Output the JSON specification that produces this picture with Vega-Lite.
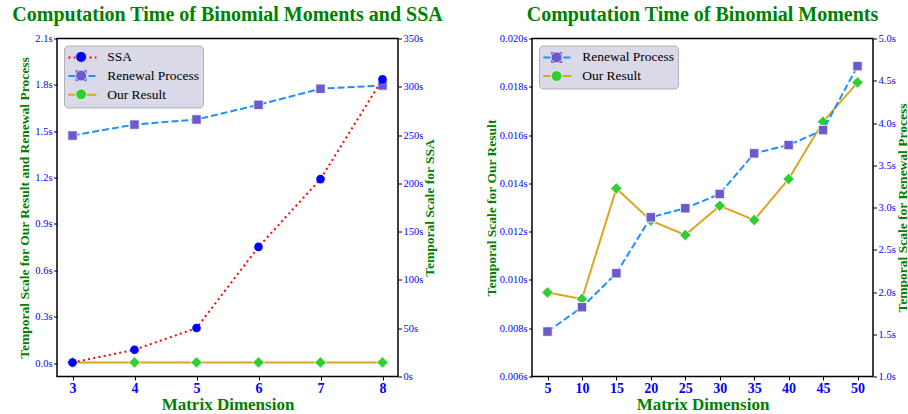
{
  "$schema": "https://vega.github.io/schema/vega-lite/v6.json",
  "background": "white",
  "padding": {"left": 11, "top": 3.5, "right": 0, "bottom": 0},
  "config": {
    "font": "Liberation Serif",
    "style": {"guide-label": {"font": "Liberation Serif"}, "guide-title": {"font": "Liberation Serif"}, "group-title": {"font": "Liberation Serif"}},
    "view": {"stroke": "black", "strokeWidth": 1.5},
    "axis": {"grid": false, "domain": false, "tickColor": "black", "tickSize": 3.5, "tickWidth": 1, "labelOverlap": false,
      "labelFont": "Liberation Serif", "labelColor": "blue", "labelFontSize": 10.5, "labelPadding": 1.5,
      "titleFont": "Liberation Serif", "titleColor": "green", "titleFontWeight": "bold", "titleFontSize": 13.5},
    "axisX": {"labelFont": "Liberation Serif", "titleFont": "Liberation Serif", "labelFontSize": 14, "labelFontWeight": "bold", "titleFontSize": 17, "titlePadding": 1},
    "axisY": {"labelFont": "Liberation Serif", "titleFont": "Liberation Serif"},
    "title": {"font": "Liberation Serif", "fontSize": 20, "fontWeight": "bold", "color": "green", "anchor": "middle", "frame": "group", "offset": 9},
    "legend": {"labelFont": "Liberation Serif", "labelColor": "black"}
  },
  "datasets": {
    "left": [
      {"dim": 3, "series": "SSA", "value": 14.5},
      {"dim": 4, "series": "SSA", "value": 27.7},
      {"dim": 5, "series": "SSA", "value": 50.2},
      {"dim": 6, "series": "SSA", "value": 134.2},
      {"dim": 7, "series": "SSA", "value": 204.4},
      {"dim": 8, "series": "SSA", "value": 307.8},
      {"dim": 3, "series": "Renewal Process", "value": 1.472},
      {"dim": 4, "series": "Renewal Process", "value": 1.543},
      {"dim": 5, "series": "Renewal Process", "value": 1.576},
      {"dim": 6, "series": "Renewal Process", "value": 1.671},
      {"dim": 7, "series": "Renewal Process", "value": 1.775},
      {"dim": 8, "series": "Renewal Process", "value": 1.796},
      {"dim": 3, "series": "Our Result", "value": 0.004},
      {"dim": 4, "series": "Our Result", "value": 0.004},
      {"dim": 5, "series": "Our Result", "value": 0.004},
      {"dim": 6, "series": "Our Result", "value": 0.004},
      {"dim": 7, "series": "Our Result", "value": 0.004},
      {"dim": 8, "series": "Our Result", "value": 0.004}
    ],
    "right": [
      {"dim": 5, "series": "Our Result", "value": 0.00948},
      {"dim": 10, "series": "Our Result", "value": 0.00921},
      {"dim": 15, "series": "Our Result", "value": 0.01379},
      {"dim": 20, "series": "Our Result", "value": 0.01246},
      {"dim": 25, "series": "Our Result", "value": 0.01186},
      {"dim": 30, "series": "Our Result", "value": 0.01307},
      {"dim": 35, "series": "Our Result", "value": 0.01248},
      {"dim": 40, "series": "Our Result", "value": 0.01418},
      {"dim": 45, "series": "Our Result", "value": 0.01655},
      {"dim": 50, "series": "Our Result", "value": 0.01818},
      {"dim": 5, "series": "Renewal Process", "value": 1.532},
      {"dim": 10, "series": "Renewal Process", "value": 1.82},
      {"dim": 15, "series": "Renewal Process", "value": 2.222},
      {"dim": 20, "series": "Renewal Process", "value": 2.884},
      {"dim": 25, "series": "Renewal Process", "value": 2.991},
      {"dim": 30, "series": "Renewal Process", "value": 3.16},
      {"dim": 35, "series": "Renewal Process", "value": 3.641},
      {"dim": 40, "series": "Renewal Process", "value": 3.739},
      {"dim": 45, "series": "Renewal Process", "value": 3.916},
      {"dim": 50, "series": "Renewal Process", "value": 4.673}
    ]
  },
  "bounds": "flush",
  "spacing": 134,
  "resolve": {"scale": {"stroke": "independent", "strokeDash": "independent", "fill": "independent", "shape": "independent"}},
  "hconcat": [
    {
      "title": "Computation Time of Binomial Moments and SSA",
      "width": 341,
      "height": 338,
      "data": {"name": "left"},
      "resolve": {"scale": {"y": "independent"}},
      "layer": [
        {
          "transform": [{"filter": "datum.series !== 'SSA'"}],
          "encoding": {
            "x": {"field": "dim", "type": "quantitative", "scale": {"domain": [2.75, 8.25], "nice": false, "zero": false},
              "axis": {"values": [3, 4, 5, 6, 7, 8], "format": "d", "title": "Matrix Dimension", "labelOverlap": false, "labelFont": "Liberation Serif", "titleFont": "Liberation Serif"}},
            "y": {"field": "value", "type": "quantitative", "scale": {"domain": [-0.087, 2.1], "nice": false, "zero": false},
              "axis": {"orient": "left", "values": [0, 0.3, 0.6, 0.9, 1.2, 1.5, 1.8, 2.1], "labelExpr": "format(datum.value, '.1f') + 's'", "labelOverlap": false,
                "labelFont": "Liberation Serif", "titleFont": "Liberation Serif",
                "title": "Temporal Scale for Our Result and Renewal Process", "minExtent": 21, "maxExtent": 21, "titlePadding": 4.5}}
          },
          "layer": [
            {
              "mark": {"type": "line", "strokeWidth": 2},
              "encoding": {
                "stroke": {"field": "series", "type": "nominal",
                  "scale": {"domain": ["SSA", "Renewal Process", "Our Result"], "range": ["red", "#1E90FF", "#DAA520"]},
                  "legend": {"title": null, "orient": "top-left", "offset": 6.5, "symbolType": "stroke", "symbolSize": 784, "symbolStrokeWidth": 2,
                    "labelFont": "Liberation Serif", "labelFontSize": 13.5, "labelOffset": 9.8, "padding": 3.4, "fillColor": "#D9D9E8", "strokeColor": "#B0B0B8", "cornerRadius": 4,
                    "clipHeight": 17, "rowPadding": 1.7}},
                "strokeDash": {"field": "series", "type": "nominal",
                  "scale": {"domain": ["SSA", "Renewal Process", "Our Result"], "range": [[2, 3.3], [7, 3], [1, 0]]},
                  "legend": {"title": null, "orient": "top-left", "offset": 6.5, "symbolType": "stroke", "symbolSize": 784, "symbolStrokeWidth": 2,
                    "labelFont": "Liberation Serif", "labelFontSize": 13.5, "labelOffset": 9.8, "padding": 3.4, "fillColor": "#D9D9E8", "strokeColor": "#B0B0B8", "cornerRadius": 4,
                    "clipHeight": 17, "rowPadding": 1.7}}
              }
            },
            {
              "transform": [{"filter": "datum.series === 'Our Result'"}],
              "mark": {"type": "point", "filled": true, "size": 130, "opacity": 1, "stroke": "white", "strokeWidth": 0.8},
              "encoding": {
                "fill": {"field": "series", "type": "nominal",
                  "scale": {"domain": ["SSA", "Renewal Process", "Our Result"], "range": ["blue", "#6A5ACD", "#32CD32"]},
                  "legend": {"title": null, "orient": "none", "legendX": 18.1, "legendY": 9.9, "symbolSize": 120, "labelOpacity": 0, "labelFontSize": 1,
                    "padding": 0, "clipHeight": 17, "rowPadding": 1.7, "symbolStrokeColor": "white", "symbolStrokeWidth": 0.8}},
                "shape": {"field": "series", "type": "nominal",
                  "scale": {"domain": ["SSA", "Renewal Process", "Our Result"], "range": ["circle", "square", "diamond"]},
                  "legend": {"title": null, "orient": "none", "legendX": 18.1, "legendY": 9.9, "symbolSize": 120, "labelOpacity": 0, "labelFontSize": 1,
                    "padding": 0, "clipHeight": 17, "rowPadding": 1.7, "symbolStrokeColor": "white", "symbolStrokeWidth": 0.8}}
              }
            },
            {
              "transform": [{"filter": "datum.series === 'Renewal Process'"}],
              "mark": {"type": "point", "filled": true, "size": 88, "opacity": 1, "stroke": "white", "strokeWidth": 0.8},
              "encoding": {
                "fill": {"field": "series", "type": "nominal"},
                "shape": {"field": "series", "type": "nominal"}
              }
            }
          ]
        },
        {
          "transform": [{"filter": "datum.series === 'SSA'"}],
          "encoding": {
            "x": {"field": "dim", "type": "quantitative", "scale": {"domain": [2.75, 8.25], "nice": false, "zero": false},
              "axis": {"values": [3, 4, 5, 6, 7, 8], "format": "d", "title": "Matrix Dimension", "labelOverlap": false, "labelFont": "Liberation Serif", "titleFont": "Liberation Serif"}},
            "y": {"field": "value", "type": "quantitative", "scale": {"domain": [0, 350], "nice": false, "zero": false},
              "axis": {"orient": "right", "values": [0, 50, 100, 150, 200, 250, 300, 350], "labelExpr": "format(datum.value, 'd') + 's'", "labelOverlap": false,
                "labelFont": "Liberation Serif", "titleFont": "Liberation Serif",
                "title": "Temporal Scale for SSA", "titleAngle": 270, "titleBaseline": "top", "minExtent": 23, "maxExtent": 23, "titlePadding": 1.5}}
          },
          "layer": [
            {
              "mark": {"type": "line", "strokeWidth": 2},
              "encoding": {
                "stroke": {"field": "series", "type": "nominal"},
                "strokeDash": {"field": "series", "type": "nominal"}
              }
            },
            {
              "mark": {"type": "point", "filled": true, "size": 75, "opacity": 1, "strokeWidth": 0},
              "encoding": {
                "fill": {"field": "series", "type": "nominal"},
                "shape": {"field": "series", "type": "nominal"}
              }
            }
          ]
        }
      ]
    },
    {
      "title": "Computation Time of Binomial Moments",
      "width": 341,
      "height": 338,
      "data": {"name": "right"},
      "resolve": {"scale": {"y": "independent"}},
      "layer": [
        {
          "transform": [{"filter": "datum.series === 'Our Result'"}],
          "encoding": {
            "x": {"field": "dim", "type": "quantitative", "scale": {"domain": [2.75, 52.25], "nice": false, "zero": false},
              "axis": {"values": [5, 10, 15, 20, 25, 30, 35, 40, 45, 50], "format": "d", "title": "Matrix Dimension", "labelOverlap": false, "labelFont": "Liberation Serif", "titleFont": "Liberation Serif"}},
            "y": {"field": "value", "type": "quantitative", "scale": {"domain": [0.006, 0.02], "nice": false, "zero": false},
              "axis": {"orient": "left", "values": [0.006, 0.008, 0.01, 0.012, 0.014, 0.016, 0.018, 0.02], "labelExpr": "format(datum.value, '.3f') + 's'", "labelOverlap": false,
                "labelFont": "Liberation Serif", "titleFont": "Liberation Serif",
                "title": "Temporal Scale for Our Result", "minExtent": 31, "maxExtent": 31, "titlePadding": 3}}
          },
          "layer": [
            {
              "mark": {"type": "line", "strokeWidth": 2},
              "encoding": {
                "stroke": {"field": "series", "type": "nominal",
                  "scale": {"domain": ["Renewal Process", "Our Result"], "range": ["#1E90FF", "#DAA520"]},
                  "legend": {"title": null, "orient": "top-left", "offset": 7, "symbolType": "stroke", "symbolSize": 784, "symbolStrokeWidth": 2,
                    "labelFont": "Liberation Serif", "labelFontSize": 13.5, "labelOffset": 9.8, "padding": 3.4, "fillColor": "#D9D9E8", "strokeColor": "#B0B0B8", "cornerRadius": 4,
                    "clipHeight": 17, "rowPadding": 1.7}},
                "strokeDash": {"field": "series", "type": "nominal",
                  "scale": {"domain": ["Renewal Process", "Our Result"], "range": [[7, 3], [1, 0]]},
                  "legend": {"title": null, "orient": "top-left", "offset": 7, "symbolType": "stroke", "symbolSize": 784, "symbolStrokeWidth": 2,
                    "labelFont": "Liberation Serif", "labelFontSize": 13.5, "labelOffset": 9.8, "padding": 3.4, "fillColor": "#D9D9E8", "strokeColor": "#B0B0B8", "cornerRadius": 4,
                    "clipHeight": 17, "rowPadding": 1.7}}
              }
            },
            {
              "mark": {"type": "point", "filled": true, "size": 130, "opacity": 1, "stroke": "white", "strokeWidth": 0.8},
              "encoding": {
                "fill": {"field": "series", "type": "nominal",
                  "scale": {"domain": ["Renewal Process", "Our Result"], "range": ["#6A5ACD", "#32CD32"]},
                  "legend": {"title": null, "orient": "none", "legendX": 18.6, "legendY": 10.4, "symbolSize": 120, "labelOpacity": 0, "labelFontSize": 1,
                    "padding": 0, "clipHeight": 17, "rowPadding": 1.7, "symbolStrokeColor": "white", "symbolStrokeWidth": 0.8}},
                "shape": {"field": "series", "type": "nominal",
                  "scale": {"domain": ["Renewal Process", "Our Result"], "range": ["square", "diamond"]},
                  "legend": {"title": null, "orient": "none", "legendX": 18.6, "legendY": 10.4, "symbolSize": 120, "labelOpacity": 0, "labelFontSize": 1,
                    "padding": 0, "clipHeight": 17, "rowPadding": 1.7, "symbolStrokeColor": "white", "symbolStrokeWidth": 0.8}}
              }
            }
          ]
        },
        {
          "transform": [{"filter": "datum.series === 'Renewal Process'"}],
          "encoding": {
            "x": {"field": "dim", "type": "quantitative", "scale": {"domain": [2.75, 52.25], "nice": false, "zero": false},
              "axis": {"values": [5, 10, 15, 20, 25, 30, 35, 40, 45, 50], "format": "d", "title": "Matrix Dimension", "labelOverlap": false, "labelFont": "Liberation Serif", "titleFont": "Liberation Serif"}},
            "y": {"field": "value", "type": "quantitative", "scale": {"domain": [1, 5], "nice": false, "zero": false},
              "axis": {"orient": "right", "values": [1, 1.5, 2, 2.5, 3, 3.5, 4, 4.5, 5], "labelExpr": "format(datum.value, '.1f') + 's'", "labelOverlap": false,
                "labelFont": "Liberation Serif", "titleFont": "Liberation Serif",
                "title": "Temporal Scale for Renewal Process", "titleAngle": 270, "titleBaseline": "top", "minExtent": 21, "maxExtent": 21, "titlePadding": 1}}
          },
          "layer": [
            {
              "mark": {"type": "line", "strokeWidth": 2},
              "encoding": {
                "stroke": {"field": "series", "type": "nominal"},
                "strokeDash": {"field": "series", "type": "nominal"}
              }
            },
            {
              "mark": {"type": "point", "filled": true, "size": 88, "opacity": 1, "stroke": "white", "strokeWidth": 0.8},
              "encoding": {
                "fill": {"field": "series", "type": "nominal"},
                "shape": {"field": "series", "type": "nominal"}
              }
            }
          ]
        }
      ]
    }
  ]
}
